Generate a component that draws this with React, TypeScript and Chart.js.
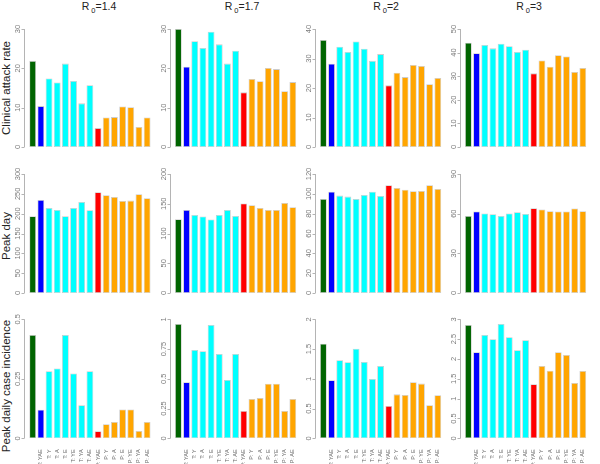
import React, { useEffect, useRef } from "react";
import { Chart, registerables } from "chart.js";
Chart.register(...registerables);

// ---------- data ----------
const categories = ["", "T: YAE", "T: Y", "T: A", "T: E", "T: YE", "T: YA", "T: AE", "P: YAE", "P: Y", "P: A", "P: E", "P: YE", "P: YA", "P: AE"];
const barColors = ["#006400", "#0000FF", "#00FFFF", "#00FFFF", "#00FFFF", "#00FFFF", "#00FFFF", "#00FFFF", "#FF0000", "#FFA500", "#FFA500", "#FFA500", "#FFA500", "#FFA500", "#FFA500"];

const r0Values = ["1.4", "1.7", "2", "3"];
const rowTitles = ["Clinical attack rate", "Peak day", "Peak daily case incidence"];

const attackR14 = [21.9, 10.4, 17.4, 16.4, 21.2, 16.8, 11.1, 15.7, 4.8, 7.5, 7.6, 10.3, 10.1, 5.1, 7.5];
const attackR17 = [30.0, 20.4, 26.9, 25.2, 29.3, 26.1, 21.2, 24.5, 13.9, 17.3, 16.7, 20.1, 19.8, 14.2, 16.5];
const attackR2 = [36.3, 28.2, 34.0, 32.2, 35.8, 33.3, 29.2, 31.5, 20.9, 25.2, 23.7, 27.8, 27.5, 21.3, 23.4];
const attackR3 = [44.2, 39.7, 43.2, 41.8, 43.8, 42.7, 40.3, 41.2, 31.2, 36.7, 34.0, 38.9, 38.4, 31.8, 33.5];

const peakDayR14 = [193.6, 234.6, 214.5, 209.5, 193.6, 214.5, 229.6, 208.7, 253.9, 246.4, 242.2, 232.1, 233.0, 248.9, 238.8];
const peakDayR17 = [124.0, 139.7, 131.3, 128.5, 123.5, 131.3, 139.7, 129.6, 150.3, 147.5, 143.0, 139.7, 139.7, 151.4, 144.1];
const peakDayR2 = [94.9, 102.2, 98.2, 97.2, 94.9, 98.9, 102.2, 97.9, 108.6, 105.9, 104.2, 102.6, 102.9, 108.6, 104.9];
const peakDayR3 = [58.3, 61.6, 60.1, 59.6, 58.3, 60.1, 61.1, 59.8, 64.1, 63.1, 61.9, 61.6, 61.6, 63.9, 61.9];

const peakIncR14 = [0.434, 0.120, 0.282, 0.293, 0.434, 0.272, 0.139, 0.282, 0.030, 0.059, 0.069, 0.121, 0.121, 0.031, 0.069];
const peakIncR17 = [0.961, 0.471, 0.742, 0.731, 0.952, 0.709, 0.490, 0.709, 0.230, 0.331, 0.339, 0.459, 0.459, 0.230, 0.331];
const peakIncR2 = [1.591, 0.975, 1.311, 1.277, 1.507, 1.283, 0.997, 1.216, 0.543, 0.739, 0.728, 0.941, 0.919, 0.555, 0.723];
const peakIncR3 = [2.857, 2.168, 2.605, 2.496, 2.882, 2.546, 2.218, 2.471, 1.361, 1.824, 1.706, 2.168, 2.101, 1.395, 1.697];

const attackTicks14 = [0, 10, 20, 30];
const attackTicks17 = [0, 10, 20, 30];
const attackTicks2 = [0, 10, 20, 30, 40];
const attackTicks3 = [0, 10, 20, 30, 40, 50];
const peakDayTicks14 = [0, 50, 100, 150, 200, 250, 300];
const peakDayTicks17 = [0, 50, 100, 150, 200];
const peakDayTicks2 = [0, 20, 40, 60, 80, 100, 120];
const peakDayTicks3 = [0, 30, 60, 90];
const peakIncTicks14 = [0, 0.25, 0.5];
const peakIncTicks17 = [0, 0.25, 0.5, 0.75, 1];
const peakIncTicks2 = [0, 0.5, 1, 1.5, 2];
const peakIncTicks3 = [0, 0.5, 1, 1.5, 2, 2.5, 3];

const panelValues = [
  [attackR14, attackR17, attackR2, attackR3],
  [peakDayR14, peakDayR17, peakDayR2, peakDayR3],
  [peakIncR14, peakIncR17, peakIncR2, peakIncR3],
];
const panelTicks = [
  [attackTicks14, attackTicks17, attackTicks2, attackTicks3],
  [peakDayTicks14, peakDayTicks17, peakDayTicks2, peakDayTicks3],
  [peakIncTicks14, peakIncTicks17, peakIncTicks2, peakIncTicks3],
];

// ---------- layout ----------
const AREA_LEFT = [28.6, 174.3, 319.3, 464.3];
const AREA_W = 122.6;
const AREA_TOP = [29, 174, 319.3];
const AREA_BOTTOM = [147, 293, 438.3];
const TITLE_X = [99, 242, 386, 529];
const ROW_TITLE_Y = [88, 236, 386];
const FONT = '"Liberation Sans", Arial, sans-serif';

const rAxis = {
  id: "rAxis",
  afterDraw(chart: any, _args: any, opts: any) {
    const { ctx, chartArea } = chart;
    const y = chart.scales.y;
    const ticks = y.ticks && y.ticks.length ? y.ticks : [];
    if (!ticks.length) return;
    const ax = Math.round(chartArea.left - 4.5) + 0.5;
    const p0 = y.getPixelForValue(ticks[0].value);
    const p1 = y.getPixelForValue(ticks[ticks.length - 1].value);
    ctx.save();
    ctx.strokeStyle = "#b4b4b4";
    ctx.lineWidth = 1;
    ctx.beginPath();
    ctx.moveTo(ax, p0);
    ctx.lineTo(ax, p1);
    ticks.forEach((t: any) => {
      const py = Math.round(y.getPixelForValue(t.value)) + 0.5;
      ctx.moveTo(ax, py);
      ctx.lineTo(ax - 3, py);
    });
    ctx.stroke();
    ctx.fillStyle = "#7a7a7a";
    ctx.font = "7.5px " + FONT;
    ctx.textAlign = "center";
    ctx.textBaseline = "middle";
    ticks.forEach((t: any) => {
      const py = y.getPixelForValue(t.value);
      ctx.save();
      ctx.translate(ax - 7, py);
      ctx.rotate(-Math.PI / 2);
      ctx.fillText(String(t.label), 0, 0);
      ctx.restore();
    });
    if (opts && opts.showX) {
      const x = chart.scales.x;
      ctx.font = "5.5px " + FONT;
      ctx.textAlign = "right";
      ctx.fillStyle = "#6a6a6a";
      categories.forEach((lab, i) => {
        if (!lab) return;
        const px = x.getPixelForValue(i);
        ctx.save();
        ctx.translate(px, chartArea.bottom + 11);
        ctx.rotate(-Math.PI / 2);
        ctx.fillText(lab, 0, 0);
        ctx.restore();
      });
    }
    ctx.restore();
  },
};

function Panel({ row, col }: { row: number; col: number }) {
  const ref = useRef<HTMLCanvasElement>(null);
  const values = panelValues[row][col];
  const ticks = panelTicks[row][col];
  const cl = Math.floor(AREA_LEFT[col]) - 27;
  const ct = Math.floor(AREA_TOP[row]) - 6;
  const cw = 158;
  const ch = row === 2 ? 464 - ct : Math.ceil(AREA_BOTTOM[row]) + 4 - ct;
  useEffect(() => {
    if (!ref.current) return;
    const chart = new Chart(ref.current, {
      type: "bar",
      data: {
        labels: categories,
        datasets: [
          {
            data: values,
            backgroundColor: barColors,
            borderColor: "rgba(185,185,185,0.75)",
            borderWidth: 0.8,
            borderSkipped: false,
            barPercentage: 0.83,
            categoryPercentage: 1,
          },
        ],
      },
      options: {
        animation: false,
        responsive: false,
        devicePixelRatio: 1,
        layout: {
          padding: {
            left: AREA_LEFT[col] - cl,
            right: cl + cw - (AREA_LEFT[col] + AREA_W),
            top: AREA_TOP[row] - ct,
            bottom: ct + ch - AREA_BOTTOM[row],
          },
        },
        plugins: {
          legend: { display: false },
          tooltip: { enabled: false },
          title: { display: false },
          rAxis: { showX: row === 2 },
        } as any,
        scales: {
          x: { display: false },
          y: {
            display: false,
            min: 0,
            max: ticks[ticks.length - 1],
            afterBuildTicks: (s: any) => {
              s.ticks = ticks.map((v) => ({ value: v }));
            },
            ticks: { callback: (v: any) => String(v) },
          },
        },
      },
      plugins: [rAxis as any],
    });
    return () => chart.destroy();
  }, []);
  return (
    <canvas
      ref={ref}
      width={cw}
      height={ch}
      style={{ position: "absolute", left: cl, top: ct, width: cw, height: ch }}
    />
  );
}

export default function App() {
  const panels = [];
  for (let r = 0; r < 3; r++) for (let c = 0; c < 4; c++) panels.push(<Panel key={r + "-" + c} row={r} col={c} />);
  return (
    <div
      style={{
        position: "absolute",
        left: 0,
        top: 0,
        width: 600,
        height: 464,
        background: "#fff",
        overflow: "hidden",
        fontFamily: FONT,
      }}
    >
      {r0Values.map((v, i) => (
        <div
          key={"t" + i}
          style={{
            position: "absolute",
            left: TITLE_X[i],
            top: 0,
            transform: "translateX(-50%)",
            fontSize: 10.5,
            lineHeight: "13px",
            whiteSpace: "nowrap",
            color: "#222",
          }}
        >
          R
          <span style={{ fontSize: 7.5, position: "relative", top: 3, marginLeft: 2 }}>0</span>={v}
        </div>
      ))}
      {rowTitles.map((t, i) => (
        <div
          key={"r" + i}
          style={{
            position: "absolute",
            left: 5.5,
            top: ROW_TITLE_Y[i],
            transform: "translate(-50%, -50%) rotate(-90deg)",
            fontSize: 11.5,
            lineHeight: "13px",
            whiteSpace: "nowrap",
            color: "#222",
          }}
        >
          {t}
        </div>
      ))}
      {panels}
    </div>
  );
}
